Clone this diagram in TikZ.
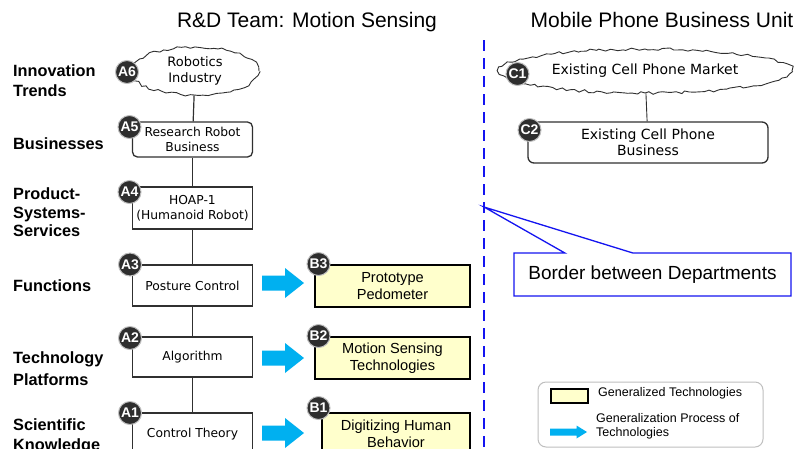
\documentclass[tikz,border=0pt]{standalone}
\usepackage{fontspec}
\setmainfont{Liberation Sans}
\newfontfamily\verd{DejaVu Sans}
\usetikzlibrary{shapes.geometric,shapes.callouts,decorations.pathmorphing}
\definecolor{badgegray}{HTML}{2E2E2E}
\definecolor{genyellow}{HTML}{FFFFCC}
\definecolor{procblue}{HTML}{00B0F0}
\definecolor{borderblue}{HTML}{1414F0}
\definecolor{framegray}{HTML}{303030}
\pgfmathsetseed{7}
\tikzset{
  abox/.style={draw=framegray, line width=1.3pt, fill=white, align=center, inner sep=0pt,
    minimum width=120pt, font=\verd\fontsize{12.3}{15}\selectfont},
  bbox/.style={draw=black, line width=2.6pt, fill=genyellow, align=center, inner sep=0pt,
    minimum height=42pt, font=\fontsize{14.6}{17}\selectfont},
  cloudbox/.style={draw=framegray, line width=0.9pt, fill=white, ellipse, inner sep=0pt,
    align=center, decorate, decoration={random steps, segment length=4.5pt, amplitude=1.4pt}},
  badge/.style={circle, fill=badgegray, draw=black!25, line width=1pt, text=white,
    inner sep=0pt, minimum size=23pt, font=\bfseries\fontsize{14}{14}\selectfont},
  lvl/.style={anchor=west, align=left, inner sep=0pt, font=\bfseries\fontsize{16.3}{20}\selectfont},
  ttl/.style={inner sep=0pt, anchor=base, font=\fontsize{21}{21}\selectfont},
  vline/.style={draw=framegray, line width=1.2pt},
  legtext/.style={anchor=west, align=left, inner sep=0pt, font=\fontsize{12.5}{14}\selectfont},
  genarrow/.pic={\fill[procblue] (-21,-7.5) -- (2,-7.5) -- (2,-15) -- (21,0) -- (2,15) -- (2,7.5) -- (-21,7.5) -- cycle;},
  legarrow/.pic={\fill[procblue] (-18.5,-3.5) -- (8,-3.5) -- (8,-6.5) -- (18.5,0) -- (8,6.5) -- (8,3.5) -- (-18.5,3.5) -- cycle;},
}
\begin{document}
\begin{tikzpicture}[x=1pt,y=-1pt]
\clip (0,0) rectangle (800,448);
\fill[white] (0,0) rectangle (800,448);

% titles
\node[ttl] (t1) at (307,27) {R\&D Team: Motion Sensing};
\node[ttl] (t2) at (662,27) {Mobile Phone Business Unit};

% level labels
\node[lvl] (l6) at (13,81) {Innovation\\Trends};
\node[lvl] (l5) at (13,144) {Businesses};
\node[lvl, font=\bfseries\fontsize{16.3}{18.5}\selectfont] (l4) at (13,212.5) {Product-\\Systems-\\Services};
\node[lvl] (l3) at (13,285.5) {Functions};
\node[lvl, font=\bfseries\fontsize{16.3}{21.5}\selectfont] (l2) at (13,368.5) {Technology\\Platforms};
\node[lvl] (l1) at (13,436) {Scientific\\Knowledge};

% R&D chain
\node[cloudbox, minimum width=128pt, minimum height=48pt, font=\verd\fontsize{13}{16}\selectfont] (a6) at (195,71) {Robotics\\Industry};
\node[abox, rounded corners=5pt, minimum height=35pt] (a5) at (192.5,139.5) {Research Robot\\Business};
\node[abox, minimum height=42pt] (a4) at (192.5,208) {HOAP-1\\(Humanoid Robot)};
\node[abox, minimum height=41pt] (a3) at (192.5,285.5) {Posture Control};
\node[abox, minimum height=40pt] (a2) at (192.5,357) {Algorithm};
\node[abox, minimum height=42pt] (a1) at (192.5,434) {Control Theory};
\draw[vline] (a6) -- (a5);
\draw[vline] (a5) -- (a4);
\draw[vline] (a4) -- (a3);
\draw[vline] (a3) -- (a2);
\draw[vline] (a2) -- (a1);

% generalized technologies
\node[bbox, minimum width=155pt] (b3) at (392.5,286) {Prototype\\Pedometer};
\node[bbox, minimum width=155pt] (b2) at (392.5,358) {Motion Sensing\\Technologies};
\node[bbox, minimum width=148pt] (b1) at (396,434) {Digitizing Human\\Behavior};

\pic at (283,283) {genarrow};
\pic at (283,358) {genarrow};
\pic at (283,433) {genarrow};

% mobile phone business unit
\node[cloudbox, minimum width=294pt, minimum height=44pt, font=\verd\fontsize{14}{17}\selectfont] (c1) at (645,71) {Existing Cell Phone Market};
\node[abox, rounded corners=6pt, minimum width=240pt, minimum height=41pt, font=\verd\fontsize{14}{16.5}\selectfont] (c2) at (648,142.5) {Existing Cell Phone\\Business};
\draw[vline, line width=0.9pt] (c1) -- (c2);

% border
\coordinate (dtop) at (484,40);
\coordinate (dbot) at (484,452);
\coordinate (tip) at (484,207);
\draw[borderblue, line width=2.8pt, dash pattern=on 11pt off 7pt] (dtop) -- (dbot);
\node[rectangle callout, draw=borderblue, line width=1.3pt, fill=white,
  callout absolute pointer={(tip)}, callout pointer width=68pt,
  minimum width=277pt, minimum height=43pt, inner sep=0pt,
  font=\fontsize{19}{20}\selectfont] (border) at (652.5,274.5) {Border between Departments};

% legend
\node[draw=black!25, line width=1pt, rounded corners=8pt, minimum width=225pt, minimum height=65pt, inner sep=0pt] (legend) at (650.5,414.5) {};
\node[draw=black, line width=2pt, fill=genyellow, minimum width=37pt, minimum height=14pt, inner sep=0pt] (legy) at (569,395.5) {};
\node[legtext] (legt1) at (598,393) {Generalized Technologies};
\pic at (568.5,432) {legarrow};
\node[legtext] (legt2) at (596,426) {Generalization Process of\\Technologies};

% badges
\node[badge] (ba6) at (127,72) {A6};
\node[badge] (ba5) at (129.5,127) {A5};
\node[badge] (ba4) at (129.5,192) {A4};
\node[badge] (ba3) at (130,264.5) {A3};
\node[badge] (ba2) at (130,338) {A2};
\node[badge] (ba1) at (130,413) {A1};
\node[badge] (bb3) at (318.5,264) {B3};
\node[badge] (bb2) at (318.5,336) {B2};
\node[badge] (bb1) at (318.5,408) {B1};
\node[badge] (bc1) at (517.5,74) {C1};
\node[badge] (bc2) at (529.5,130) {C2};
\end{tikzpicture}
\end{document}
